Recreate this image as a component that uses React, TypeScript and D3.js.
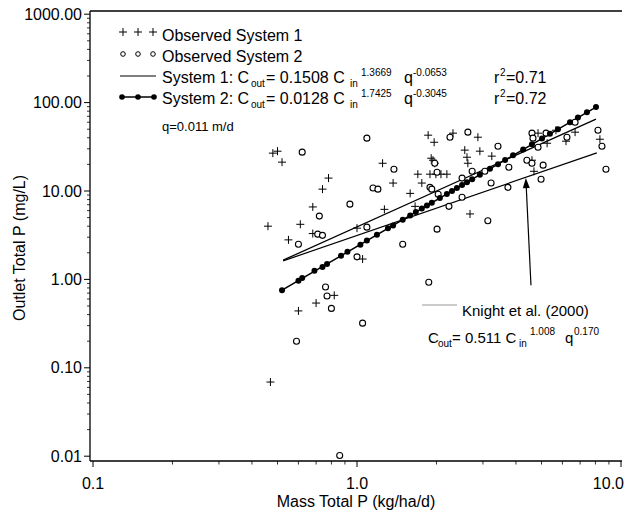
import React from "react";
import * as d3 from "d3";

// ---------- data (x = mass total P kg/ha/d, y = outlet total P mg/L) ----------
const system1Obs: [number, number][] = [
  [0.48, 26.8], [0.5, 28.2], [0.52, 21.2], [0.46, 4.0], [0.61, 4.2], [0.68, 3.3],
  [0.55, 2.8], [0.68, 6.6], [0.74, 10.5], [0.78, 14.0], [0.47, 0.069], [0.6, 0.44],
  [0.7, 0.54], [0.82, 0.66], [1.0, 3.8], [1.05, 1.7], [1.25, 20.6], [1.37, 12.3],
  [1.27, 6.2], [1.59, 9.4], [1.66, 6.7], [1.7, 15.5], [1.76, 12.3], [1.86, 42.8],
  [1.96, 35.6], [1.94, 22.3], [1.91, 23.5], [1.97, 20.6], [1.89, 15.5], [1.99, 15.5],
  [2.08, 15.5], [2.19, 15.5], [2.31, 45.1], [2.56, 29.0], [2.61, 24.1], [2.63, 20.6],
  [2.68, 5.5], [2.87, 40.6], [2.92, 28.2], [3.24, 24.8], [4.6, 22.3], [4.68, 16.7],
  [4.85, 45.1], [5.67, 48.7], [6.19, 36.6], [6.7, 46.3], [8.32, 38.5], [5.25, 34.7],
];

const system2Obs: [number, number][] = [
  [0.62, 27.5], [1.09, 39.6], [0.94, 7.1], [0.72, 5.2], [0.71, 3.25], [0.74, 3.15],
  [0.6, 2.5], [1.38, 17.6], [1.15, 10.8], [1.2, 10.5], [1.09, 3.9], [1.0, 1.8],
  [1.49, 2.5], [0.76, 0.82], [0.77, 0.65], [0.8, 0.47], [1.05, 0.32], [0.59, 0.2],
  [0.86, 0.0102], [1.87, 0.93], [2.01, 16.3], [1.89, 11.0], [1.92, 10.5], [2.03, 9.2],
  [2.01, 3.7], [2.23, 6.7], [2.5, 14.0], [2.5, 8.5], [2.25, 40.6], [2.63, 46.3],
  [2.73, 16.7], [3.05, 16.7], [3.42, 32.1], [3.22, 12.3], [3.76, 18.6], [3.73, 11.0],
  [3.13, 4.6], [4.4, 22.3], [4.6, 20.6], [4.6, 45.1], [4.64, 39.6], [4.98, 13.6],
  [5.07, 19.6], [5.2, 45.1], [6.24, 40.6], [6.7, 60], [8.18, 48.7], [8.47, 32.1],
  [8.77, 17.6], [4.85, 31.3], [1.97, 20.6],
];

const system2Fitted: [number, number][] = [
  [0.52, 0.755], [0.6, 0.964], [0.62, 1.04], [0.69, 1.25], [0.74, 1.38], [0.77, 1.49],
  [0.87, 1.85], [0.92, 2.06], [1.03, 2.47], [1.09, 2.75], [1.19, 3.2], [1.31, 3.78],
  [1.37, 4.07], [1.49, 4.74], [1.59, 5.28], [1.67, 5.78], [1.76, 6.33], [1.84, 6.84],
  [1.92, 7.38], [2.06, 8.32], [2.19, 9.27], [2.29, 10.0], [2.39, 10.8], [2.5, 11.7],
  [2.61, 12.6], [2.73, 13.6], [2.92, 15.3], [3.19, 17.8], [3.42, 20.1], [3.64, 22.4],
  [3.9, 25.3], [4.26, 29.4], [4.6, 33.7], [5.02, 39.3], [5.38, 44.4], [5.77, 50.0],
  [6.41, 60.1], [6.87, 67.8], [7.43, 77.8], [8.04, 89.1],
];

const system1Line: [number, number][] = [[0.525, 1.65], [8.04, 65]];
const system2Line: [number, number][] = [[0.52, 0.755], [8.04, 89]];
const knightLine: [number, number][] = [[0.525, 1.62], [8.1, 27]];
const arrowPoints: [number, number][] = [[4.56, 0.86], [4.36, 14.0]];

const xTickValues = [0.1, 1, 10];
const xTickLabels = ["0.1", "1.0", "10.0"];
const yTickValues = [0.01, 0.1, 1, 10, 100, 1000];
const yTickLabels = ["0.01", "0.10", "1.00", "10.00", "100.00", "1000.00"];

// ---------- layout ----------
const W = 626;
const H = 513;
const axisLeft = 90;
const axisRight = 622;
const axisTop = 11;
const axisBottom = 461;
const FONT = "'Liberation Sans', Arial, Helvetica, sans-serif";

const x = d3.scaleLog().domain([0.1, 10]).range([93, 621]);
const y = d3.scaleLog().domain([0.01, 1000]).range([456.2, 14.2]);

const lineGen = d3
  .line<[number, number]>()
  .x((d) => x(d[0]))
  .y((d) => y(d[1]));

function Plus({ cx, cy, s = 4 }: { cx: number; cy: number; s?: number }) {
  return (
    <path
      d={`M${cx - s},${cy}H${cx + s}M${cx},${cy - s}V${cy + s}`}
      stroke="#000"
      strokeWidth={1}
      fill="none"
    />
  );
}

export default function App() {
  const xMinor = x
    .ticks()
    .filter((t) => !xTickValues.some((v) => Math.abs(v - t) < 1e-9));
  const yMinor = y
    .ticks()
    .filter((t) => !yTickValues.some((v) => Math.abs(v - t) < 1e-9));

  // arrow geometry
  const ax0 = x(arrowPoints[0][0]);
  const ay0 = y(arrowPoints[0][1]);
  const ax1 = x(arrowPoints[1][0]);
  const ay1 = y(arrowPoints[1][1]);
  const ang = Math.atan2(ay1 - ay0, ax1 - ax0);
  const hl = 10;
  const hw = 3.5;
  const bx = ax1 - hl * Math.cos(ang);
  const by = ay1 - hl * Math.sin(ang);
  const px = -Math.sin(ang);
  const py = Math.cos(ang);
  const head = `M${ax1},${ay1}L${bx + hw * px},${by + hw * py}L${bx - hw * px},${by - hw * py}Z`;

  return (
    <svg
      width={W}
      height={H}
      style={{ position: "absolute", left: 0, top: 0, background: "#fff" }}
      fontFamily={FONT}
    >
      <rect x={0} y={0} width={W} height={H} fill="#fff" />

      {/* frame */}
      <line x1={axisLeft} x2={axisRight} y1={axisTop} y2={axisTop} stroke="#000" strokeWidth={1.3} />
      <line x1={axisLeft} x2={axisLeft} y1={axisTop} y2={axisBottom} stroke="#000" strokeWidth={1.3} />
      <line x1={axisLeft} x2={axisRight} y1={axisBottom} y2={axisBottom} stroke="#000" strokeWidth={1.3} />

      {/* y ticks */}
      {yTickValues.map((v, i) => (
        <g key={"yt" + i}>
          <line x1={axisLeft - 6} x2={axisLeft} y1={y(v)} y2={y(v)} stroke="#000" strokeWidth={1} />
          <text x={axisLeft - 8} y={y(v) + 5.5} textAnchor="end" fontSize={16}>
            {yTickLabels[i]}
          </text>
        </g>
      ))}
      {yMinor.map((v, i) => (
        <line key={"ym" + i} x1={axisLeft - 3} x2={axisLeft} y1={y(v)} y2={y(v)} stroke="#000" strokeWidth={0.8} />
      ))}

      {/* x ticks */}
      {xTickValues.map((v, i) => {
        const last = i === xTickValues.length - 1;
        return (
          <g key={"xt" + i}>
            <line x1={x(v)} x2={x(v)} y1={axisBottom} y2={axisBottom + 6} stroke="#000" strokeWidth={1} />
            <text
              x={last ? W - 2 : x(v)}
              y={489}
              textAnchor={last ? "end" : "middle"}
              fontSize={16}
            >
              {xTickLabels[i]}
            </text>
          </g>
        );
      })}
      {xMinor.map((v, i) => (
        <line key={"xm" + i} x1={x(v)} x2={x(v)} y1={axisBottom} y2={axisBottom + 3.5} stroke="#000" strokeWidth={0.8} />
      ))}

      {/* axis titles */}
      <text x={356} y={507} textAnchor="middle" fontSize={16}>
        Mass Total P (kg/ha/d)
      </text>
      <text
        transform={`translate(25,248) rotate(-90)`}
        textAnchor="middle"
        fontSize={16}
      >
        Outlet Total P (mg/L)
      </text>

      {/* fitted lines */}
      <path d={lineGen(knightLine) || ""} stroke="#000" strokeWidth={1.2} fill="none" />
      <path d={lineGen(system1Line) || ""} stroke="#000" strokeWidth={1.3} fill="none" />
      <path d={lineGen(system2Line) || ""} stroke="#000" strokeWidth={1.5} fill="none" />

      {/* observations */}
      {system1Obs.map((d, i) => (
        <Plus key={"p" + i} cx={x(d[0])} cy={y(d[1])} />
      ))}
      {system2Obs.map((d, i) => (
        <circle key={"o" + i} cx={x(d[0])} cy={y(d[1])} r={3} fill="#fff" stroke="#000" strokeWidth={1.1} />
      ))}
      {system2Fitted.map((d, i) => (
        <circle key={"f" + i} cx={x(d[0])} cy={y(d[1])} r={3} fill="#000" />
      ))}

      {/* arrow */}
      <line x1={ax0} y1={ay0} x2={bx} y2={by} stroke="#000" strokeWidth={1.2} />
      <path d={head} fill="#000" />

      {/* legend */}
      <Plus cx={123} cy={32} />
      <Plus cx={138} cy={32} />
      <Plus cx={153} cy={32} />
      <text x={162} y={41} fontSize={16}>Observed System 1</text>

      <circle cx={123} cy={54} r={2.3} fill="#fff" stroke="#000" strokeWidth={1} />
      <circle cx={138} cy={54} r={2.3} fill="#fff" stroke="#000" strokeWidth={1} />
      <circle cx={153} cy={54} r={2.3} fill="#fff" stroke="#000" strokeWidth={1} />
      <text x={162} y={62} fontSize={16}>Observed System 2</text>

      <line x1={120} x2={156} y1={76} y2={76} stroke="#000" strokeWidth={1.2} />
      <text y={83} fontSize={16}>
        <tspan x={162}>System 1: C</tspan>
        <tspan x={251} y={87} fontSize={10}>out</tspan>
        <tspan x={266} y={83}>= 0.1508 C</tspan>
        <tspan x={350} y={87} fontSize={10}>in</tspan>
        <tspan x={361} y={76} fontSize={10}>1.3669</tspan>
        <tspan x={404} y={83}>q</tspan>
        <tspan x={413} y={76} fontSize={10}>-0.0653</tspan>
        <tspan x={494} y={83}>r</tspan>
        <tspan x={500} y={76} fontSize={10}>2</tspan>
        <tspan x={506} y={83}>=0.71</tspan>
      </text>

      <line x1={120} x2={156} y1={97} y2={97} stroke="#000" strokeWidth={1.5} />
      <circle cx={122} cy={97} r={2.8} fill="#000" />
      <circle cx={138} cy={97} r={2.8} fill="#000" />
      <circle cx={154} cy={97} r={2.8} fill="#000" />
      <text y={104} fontSize={16}>
        <tspan x={162}>System 2: C</tspan>
        <tspan x={251} y={108} fontSize={10}>out</tspan>
        <tspan x={266} y={104}>= 0.0128 C</tspan>
        <tspan x={350} y={108} fontSize={10}>in</tspan>
        <tspan x={361} y={97} fontSize={10}>1.7425</tspan>
        <tspan x={404} y={104}>q</tspan>
        <tspan x={413} y={97} fontSize={10}>-0.3045</tspan>
        <tspan x={494} y={104}>r</tspan>
        <tspan x={500} y={97} fontSize={10}>2</tspan>
        <tspan x={506} y={104}>=0.72</tspan>
      </text>

      <text x={162} y={131} fontSize={13}>q=0.011 m/d</text>

      {/* Knight legend */}
      <line x1={422} x2={457} y1={305} y2={305} stroke="#999" strokeWidth={1.2} />
      <text x={462} y={316} fontSize={15}>Knight et al. (2000)</text>
      <text y={343} fontSize={15}>
        <tspan x={428}>C</tspan>
        <tspan x={438} y={347} fontSize={10}>out</tspan>
        <tspan x={452} y={343}>= 0.511 C</tspan>
        <tspan x={519} y={347} fontSize={10}>in</tspan>
        <tspan x={530} y={335} fontSize={10}>1.008</tspan>
        <tspan x={565} y={343}>q</tspan>
        <tspan x={574} y={335} fontSize={10}>0.170</tspan>
      </text>
    </svg>
  );
}
